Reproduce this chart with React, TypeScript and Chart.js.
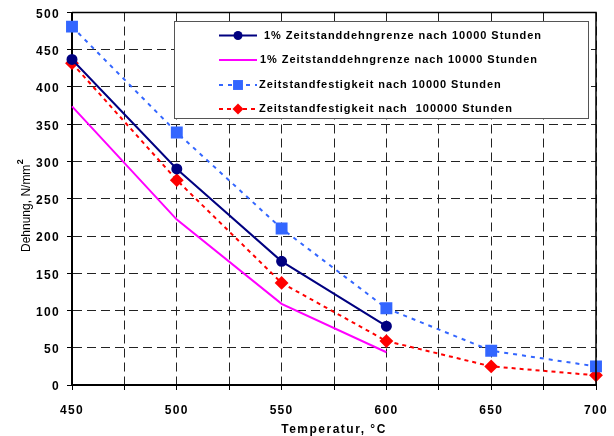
import React, { useEffect, useRef } from "react";
import { Chart, registerables } from "chart.js";

Chart.register(...registerables);

const temps = [450, 500, 550, 600, 650, 700];
const dehngrenzeA = [437, 290, 166, 79];
const dehngrenzeB = [374, 222, 109, 44];
const festigkeit10k = [481, 339, 210, 103, 46, 25];
const festigkeit100k = [432, 275, 137, 59, 25, 13];

const legendLabels = [
  "1% Zeitstanddehngrenze nach 10000 Stunden",
  "1% Zeitstanddehngrenze nach 10000 Stunden",
  "Zeitstandfestigkeit nach 10000 Stunden",
  "Zeitstandfestigkeit nach  100000 Stunden",
];
const xTitle = "Temperatur, °C";
const yTitle = "Dehnung, N/mm";
const yTitleSup = "2";

const FONT = "'Liberation Sans', Arial, sans-serif";

const toPts = (vals: number[]) => vals.map((v, i) => ({ x: temps[i], y: v }));

const decorPlugin = {
  id: "decor",
  beforeDraw(chart: any) {
    (chart.ctx as any).letterSpacing = "1.3px";
  },
  afterDraw(chart: any) {
    const ctx = chart.ctx as CanvasRenderingContext2D & { letterSpacing: string };
    const ca = chart.chartArea;
    ctx.save();
    // frame top & right
    ctx.strokeStyle = "#000";
    ctx.lineWidth = 1.5;
    ctx.setLineDash([]);
    ctx.beginPath();
    ctx.moveTo(ca.left, ca.top);
    ctx.lineTo(ca.right, ca.top);
    ctx.lineTo(ca.right, ca.bottom);
    ctx.stroke();

    // legend box
    const bx = 174.5, by = 21.5, bw = 414, bh = 97;
    ctx.fillStyle = "#fff";
    ctx.fillRect(bx, by, bw, bh);
    ctx.strokeStyle = "#555";
    ctx.lineWidth = 1;
    ctx.strokeRect(bx, by, bw, bh);

    const rows = [35.5, 60, 85, 109];
    const textX = [264, 260, 259, 259];
    ctx.font = `bold 11px ${FONT}`;
    ctx.letterSpacing = "0px";
    const w0 = ctx.measureText(legendLabels[0]).width;
    const ls = (278 - w0) / legendLabels[0].length;
    ctx.letterSpacing = `${ls}px`;
    chart.data.datasets.forEach((ds: any, i: number) => {
      const y = rows[i];
      ctx.strokeStyle = ds.borderColor;
      ctx.lineWidth = ds.borderWidth;
      ctx.setLineDash(ds.borderDash || []);
      ctx.beginPath();
      ctx.moveTo(219, y);
      ctx.lineTo(257, y);
      ctx.stroke();
      ctx.setLineDash([]);
      if (ds.pointRadius > 0) {
        ctx.fillStyle = ds.pointBackgroundColor;
        ctx.strokeStyle = ds.pointBorderColor;
        ctx.lineWidth = 1;
        ctx.beginPath();
        const r = ds.pointRadius;
        if (ds.pointStyle === "circle") {
          ctx.arc(238, y, r, 0, Math.PI * 2);
        } else if (ds.pointStyle === "rect") {
          const s = r * Math.SQRT1_2;
          ctx.rect(238 - s, y - s, 2 * s, 2 * s);
        } else {
          ctx.moveTo(238, y - r);
          ctx.lineTo(238 + r, y);
          ctx.lineTo(238, y + r);
          ctx.lineTo(238 - r, y);
          ctx.closePath();
        }
        ctx.fill();
      }
      ctx.fillStyle = "#000";
      ctx.textAlign = "left";
      ctx.textBaseline = "middle";
      ctx.fillText(legendLabels[i], textX[i], y);
    });

    // x title
    ctx.font = `bold 12px ${FONT}`;
    ctx.letterSpacing = "1.5px";
    ctx.textAlign = "center";
    ctx.textBaseline = "middle";
    ctx.fillStyle = "#000";
    ctx.fillText(xTitle, (ca.left + ca.right) / 2, 430);

    // y title
    ctx.letterSpacing = "0px";
    ctx.translate(27, 252);
    ctx.rotate(-Math.PI / 2);
    ctx.font = `12px ${FONT}`;
    ctx.textAlign = "left";
    ctx.textBaseline = "middle";
    ctx.fillText(yTitle, 0, 0);
    const tw = ctx.measureText(yTitle).width;
    ctx.font = `bold 9px ${FONT}`;
    ctx.fillText(yTitleSup, tw + 0.5, -6);
    ctx.restore();
  },
};

export default function App() {
  const ref = useRef<HTMLCanvasElement | null>(null);
  useEffect(() => {
    if (!ref.current) return;
    const chart = new Chart(ref.current, {
      type: "line",
      data: {
        datasets: [
          {
            label: legendLabels[0],
            data: toPts(dehngrenzeA),
            borderColor: "#000080",
            backgroundColor: "#000080",
            borderWidth: 2,
            pointStyle: "circle",
            pointRadius: 4.5,
            pointBackgroundColor: "#000080",
            pointBorderColor: "#000080",
            tension: 0,
            clip: false as any,
          },
          {
            label: legendLabels[1],
            data: toPts(dehngrenzeB),
            borderColor: "#FF00FF",
            backgroundColor: "#FF00FF",
            borderWidth: 2,
            pointRadius: 0,
            tension: 0,
            clip: false as any,
          },
          {
            label: legendLabels[2],
            data: toPts(festigkeit10k),
            borderColor: "#3366FF",
            backgroundColor: "#3366FF",
            borderWidth: 2,
            borderDash: [4, 5],
            pointStyle: "rect",
            pointRadius: 7,
            pointBackgroundColor: "#3366FF",
            pointBorderColor: "#3366FF",
            tension: 0,
            clip: false as any,
          },
          {
            label: legendLabels[3],
            data: toPts(festigkeit100k),
            borderColor: "#FF0000",
            backgroundColor: "#FF0000",
            borderWidth: 2,
            borderDash: [4, 4],
            pointStyle: "rectRot",
            pointRadius: 5.5,
            pointBackgroundColor: "#FF0000",
            pointBorderColor: "#FF0000",
            tension: 0,
            clip: false as any,
          },
        ],
      },
      options: {
        animation: false,
        responsive: false,
        devicePixelRatio: 1,
        layout: { padding: { top: 12.5, right: 18, left: 0, bottom: 0 } },
        plugins: { legend: { display: false }, tooltip: { enabled: false } },
        scales: {
          x: {
            type: "linear",
            min: 450,
            max: 700,
            afterFit: (s: any) => {
              s.height = 51;
              s.paddingLeft = 0;
              s.paddingRight = 0;
            },
            ticks: {
              stepSize: 25,
              autoSkip: false,
              maxRotation: 0,
              padding: 13,
              color: "#000",
              font: { family: FONT, size: 12, weight: "bold" },
              callback: (v: any) => (Number(v) % 50 === 0 ? String(v) : ""),
            },
            grid: {
              color: "#222",
              lineWidth: 1,
              tickLength: 5,
              tickColor: "#000",
              tickWidth: 1,
            },
            border: { display: true, color: "#000", width: 2, dash: [9, 5] },
          },
          y: {
            min: 0,
            max: 500,
            afterFit: (s: any) => {
              s.width = 72;
              s.paddingTop = 0;
              s.paddingBottom = 0;
            },
            ticks: {
              stepSize: 50,
              padding: 7,
              labelOffset: 2,
              color: "#000",
              font: { family: FONT, size: 12, weight: "bold" },
            },
            grid: {
              color: "#222",
              lineWidth: 1,
              tickLength: 5,
              tickColor: "#000",
              tickWidth: 1,
            },
            border: { display: true, color: "#000", width: 2, dash: [9, 5] },
          },
        },
      },
      plugins: [decorPlugin],
    });
    return () => chart.destroy();
  }, []);
  return (
    <div style={{ position: "fixed", left: 0, top: 0, width: 614, height: 436, background: "#fff" }}>
      <canvas ref={ref} width={614} height={436} style={{ width: 614, height: 436 }} />
    </div>
  );
}
